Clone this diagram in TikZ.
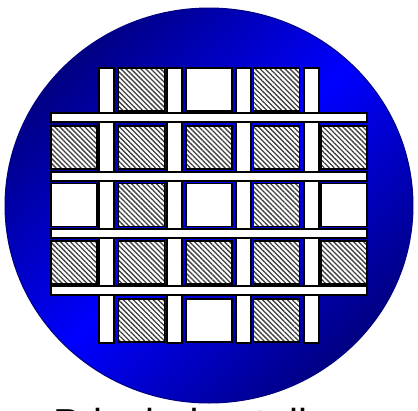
\documentclass[tikz,border=0pt]{standalone}
\usepackage{fontspec}
\setmainfont{Liberation Sans}
\usetikzlibrary{patterns.meta,positioning}

\definecolor{waferdark}{RGB}{0,0,130}
\definecolor{waferblue}{RGB}{0,0,255}

\tikzset{
  strip/.style={draw=black, fill=white, line width=0.9pt},
  cell/.style={draw=black, fill=white, line width=0.9pt},
  hcell/.style={draw=black, line width=0.9pt, preaction={fill=white},
    pattern={Lines[angle=-45,distance=2pt,line width=0.75pt]},
    pattern color=black!75}
}

\begin{document}
\begin{tikzpicture}[x=0.02cm, y=-0.02cm]
  \useasboundingbox (0,0) rectangle (418,410);

  % wafer disc
  \shade[top color=waferdark, bottom color=waferdark, middle color=waferblue,
         shading angle=45, draw=waferdark, line width=0.6pt]
    (209,205.5) ellipse [x radius=4.08cm, y radius=3.95cm];

  % vertical strips
  \foreach \x in {99,167,236,304}
    \draw[strip] (\x,68) rectangle ++(15,275);

  % cells
  \foreach \c/\r/\s in {1/0/hcell, 2/0/cell, 3/0/hcell,
                        0/1/hcell, 1/1/hcell, 2/1/hcell, 3/1/hcell, 4/1/hcell,
                        0/2/cell,  1/2/hcell, 2/2/cell,  3/2/hcell, 4/2/cell,
                        0/3/hcell, 1/3/hcell, 2/3/hcell, 3/3/hcell, 4/3/hcell,
                        1/4/hcell, 2/4/cell, 3/4/hcell}
    \draw[\s] ({51+67.5*\c},{68+57.75*\r}) rectangle ++(46,43);

  % horizontal strips on top
  \foreach \y in {113,172,229,286}
    \draw[strip] (51,\y) rectangle ++(316,9);

  \node[anchor=base west, font=\fontsize{23}{27}\selectfont, inner sep=0pt]
    (caption) at (53,437) {Prinzipdarstellung};
\end{tikzpicture}
\end{document}
